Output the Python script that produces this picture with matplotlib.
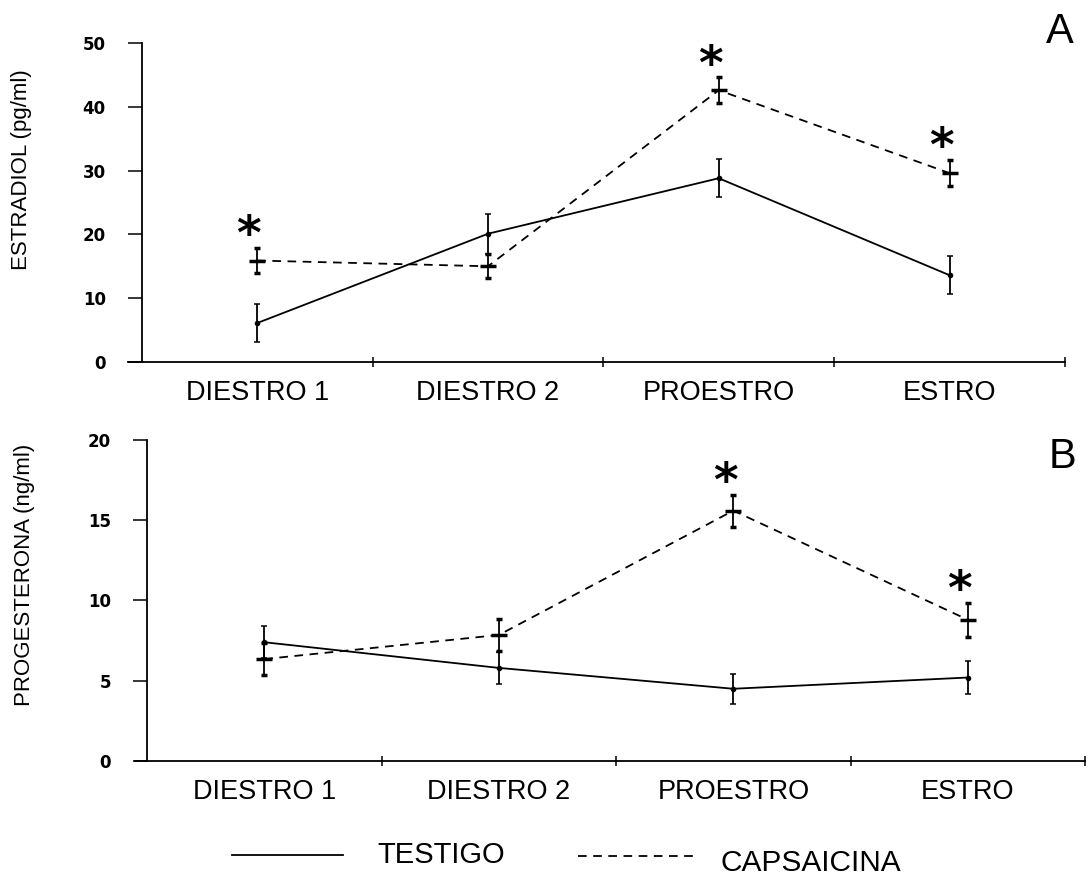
import numpy as np
import matplotlib
matplotlib.use('Agg')
import matplotlib.pyplot as plt
from matplotlib.lines import Line2D

plt.rcParams['font.family'] = ['Liberation Sans', 'DejaVu Sans']

# fases del ciclo estral
fases = ['DIESTRO 1', 'DIESTRO 2', 'PROESTRO', 'ESTRO']

# panel A: estradiol (pg/ml)
estradiol_testigo = [6.1, 20.1, 28.8, 13.6]
estradiol_testigo_err = [3.0, 3.1, 3.0, 3.0]
estradiol_caps = [15.9, 15.0, 42.6, 29.6]
estradiol_caps_err = [2.0, 1.9, 2.0, 2.0]
estradiol_sig = [0, 2, 3]

# panel B: progesterona (ng/ml)
progesterona_testigo = [7.4, 5.8, 4.5, 5.2]
progesterona_testigo_err = [1.0, 1.0, 0.95, 1.0]
progesterona_caps = [6.35, 7.85, 15.6, 8.8]
progesterona_caps_err = [1.0, 1.0, 1.0, 1.05]
progesterona_sig = [2, 3]

x = np.arange(len(fases)) + 0.5
dash = (0, (4.8, 3.6))
W, H = 1090, 876


def panel(ax, testigo, testigo_err, caps, caps_err, sig, ymax, yticks, xmin, letra, letra_pos,
          ylabel_pos, ylabel):
    ax.errorbar(x, testigo, yerr=testigo_err, color='black', lw=1.3, elinewidth=1.3,
                capsize=2.5, capthick=1.1, marker='o', ms=3)
    ax.errorbar(x, caps, yerr=caps_err, color='black', lw=1.3, elinewidth=1.3, ls=dash,
                capsize=2.5, capthick=1.1, marker='_', ms=11, mew=2.5)
    caps = np.array(caps)
    caps_err = np.array(caps_err)
    for i in sig:
        ax.annotate('*', (x[i], caps[i] + caps_err[i]), xytext=(-6, -8),
                    textcoords='offset points', ha='center', va='bottom',
                    fontsize=34, fontweight='bold', family='DejaVu Sans')

    ax.set_xlim(xmin, 4)
    ax.set_ylim(0, ymax)
    ax.spines['top'].set_visible(False)
    ax.spines['right'].set_visible(False)
    ax.spines['left'].set_position(('data', 0))
    ax.spines['left'].set_linewidth(1.3)
    ax.spines['bottom'].set_linewidth(1.3)

    ax.set_yticks(yticks)
    ax.set_yticklabels([str(t) for t in yticks], fontsize=12, fontweight='bold',
                       family='DejaVu Sans')
    ax.tick_params(axis='y', direction='out', length=10, width=1.1, pad=16)

    ax.set_xticks([1, 2, 3, 4])
    ax.set_xticklabels([])
    ax.tick_params(axis='x', which='major', direction='inout', length=7, width=1.1)
    ax.set_xticks(x, fases, minor=True)
    ax.tick_params(axis='x', which='minor', length=0, pad=13, labelsize=19.5)

    fig = ax.figure
    fig.text(letra_pos[0] / W, 1 - letra_pos[1] / H, letra, fontsize=30, ha='right',
             va='baseline')
    fig.text(ylabel_pos[0] / W, 1 - ylabel_pos[1] / H, ylabel, rotation=90, fontsize=16,
             ha='center', va='center')


fig = plt.figure(figsize=(W / 100, H / 100), dpi=100)
ax1 = fig.add_axes([0.1174, 0.5868, 0.8596, 0.3641])
ax2 = fig.add_axes([0.1239, 0.1313, 0.8716, 0.3664])

panel(ax1, estradiol_testigo, estradiol_testigo_err, estradiol_caps, estradiol_caps_err,
      estradiol_sig, 50, [0, 10, 20, 30, 40, 50], -0.06, 'A', (1074, 43), (22, 170),
      'ESTRADIOL (pg/ml)')
panel(ax2, progesterona_testigo, progesterona_testigo_err, progesterona_caps,
      progesterona_caps_err, progesterona_sig, 20, [0, 5, 10, 15, 20], -0.051, 'B',
      (1076, 468), (25, 575), 'PROGESTERONA (ng/ml)')

# leyenda
fig.add_artist(Line2D([232 / W, 343 / W], [1 - 855 / H] * 2, color='black', lw=1.3))
fig.text(377 / W, 1 - 855 / H, 'TESTIGO', fontsize=21, va='center', ha='left')
fig.add_artist(Line2D([578 / W, 695 / W], [1 - 856 / H] * 2, color='black', lw=1.3,
                      ls=dash))
fig.text(720 / W, 1 - 863 / H, 'CAPSAICINA', fontsize=21.5, va='center', ha='left')

fig.savefig('out.png', dpi=100)
